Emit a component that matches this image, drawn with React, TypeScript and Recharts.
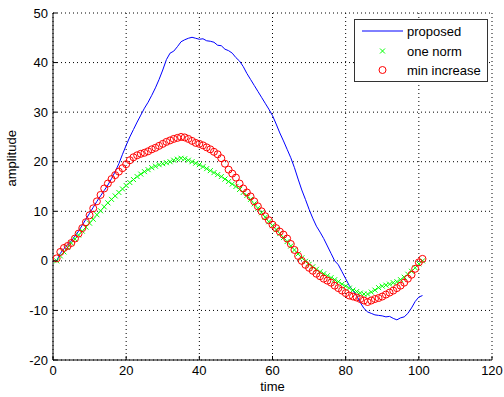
import React from 'react';
import { ComposedChart, Line, XAxis, YAxis, CartesianGrid } from 'recharts';

// sample index 1..101
const time = Array.from({ length: 101 }, (_, i) => i + 1);

const proposed = [
  0, 1.5, 2.5, 3.2, 4.0, 5.0, 6.0, 7.2, 8.4, 9.6,
  10.8, 12.0, 13.1, 14.2, 15.3, 16.6, 18.0, 19.6, 21.5, 23.3,
  25.0, 26.5, 28.0, 29.4, 30.8, 32.0, 33.4, 34.9, 36.6, 38.5,
  40.6, 41.9, 42.3, 43.2, 44.2, 44.6, 44.9, 45.1, 44.9, 44.7,
  44.8, 44.4, 44.3, 44.1, 43.5, 43.4, 42.7, 42.4, 41.9, 41.0,
  40.3, 39.2, 37.8, 36.6, 35.4, 34.2, 33.0, 31.8, 30.6, 29.3,
  27.6, 25.8, 24.2, 22.5, 20.8, 18.8, 16.5, 14.3, 12.4, 10.4,
  8.6, 7.0, 5.8, 4.5, 3.0, 1.5, 0.0, -0.8, -2.2, -3.6,
  -5.0, -6.0, -7.0, -8.4, -9.6, -10.3, -10.6, -10.9, -11.0, -11.1,
  -11.3, -11.2, -11.6, -11.9, -11.5, -11.3, -10.6, -9.5, -8.2, -7.3,
  -7.0,
];

const oneNorm = [
  0, 1.0, 1.8, 2.7, 3.6, 4.4, 5.2, 6.0, 6.8, 7.6,
  8.4, 9.3, 10.1, 10.9, 11.7, 12.4, 13.1, 13.8, 14.5, 15.2,
  15.8, 16.4, 17.0, 17.5, 18.0, 18.4, 18.8, 19.1, 19.4, 19.6,
  19.8, 20.0, 20.3, 20.5, 20.7, 20.6, 20.3, 20.0, 19.7, 19.4,
  19.0, 18.6, 18.2, 17.8, 17.4, 17.0, 16.5, 16.0, 15.5, 15.0,
  14.4, 13.8, 13.2, 12.4, 11.5, 10.6, 9.7, 8.8, 7.9, 7.1,
  6.3, 5.5, 4.7, 3.9, 3.0, 2.2, 1.4, 0.6, -0.1, -0.7,
  -1.2, -1.7, -2.2, -2.6, -3.0, -3.4, -3.8, -4.2, -4.7, -5.1,
  -5.5, -5.9, -6.2, -6.5, -6.7, -6.7, -6.3, -5.9, -5.4, -5.1,
  -4.9, -4.7, -4.4, -4.2, -3.8, -3.3, -2.7, -2.1, -1.4, -0.6,
  0.0,
];

const minIncrease = [
  0.5, 1.8, 2.6, 3.0, 3.6, 4.5, 5.5, 6.6, 7.8, 9.2,
  10.6, 12.0, 13.3, 14.6, 15.6, 16.5, 17.3, 18.0, 18.7, 19.5,
  20.3, 20.9, 21.3, 21.6, 21.8, 22.1, 22.5, 22.8, 23.2, 23.6,
  24.0, 24.3, 24.6, 24.8, 25.0, 24.9, 24.6, 24.2, 23.8, 23.6,
  23.3, 22.9, 22.5, 22.0, 21.5, 20.7, 19.6, 18.4, 17.6, 16.8,
  15.6, 14.6, 13.8, 13.0, 12.0, 11.0, 10.0, 9.0, 8.2, 7.3,
  6.6, 5.9, 5.3, 4.5, 3.4, 2.2, 1.0, 0.0, -0.8, -1.4,
  -2.0, -2.6, -3.1, -3.6, -4.0, -4.4, -5.0, -5.5, -6.0, -6.5,
  -7.0, -7.2, -7.4, -7.7, -8.0, -8.3, -8.0, -7.7, -7.5, -7.2,
  -6.8, -6.4, -6.0, -5.5, -5.0, -4.4, -3.6, -2.8, -1.6, -0.3,
  0.4,
];

const xTicks = [0, 20, 40, 60, 80, 100, 120];
const yTicks = [-20, -10, 0, 10, 20, 30, 40, 50];

const data = time.map((t, i) => ({
  time: t,
  proposed: proposed[i],
  oneNorm: oneNorm[i],
  minIncrease: minIncrease[i],
}));

const FONT = '"Liberation Sans", Arial, sans-serif';

const BottomTick = ({ x, y, payload }: any) => (
  <g>
    <line x1={x} x2={x} y1={y} y2={y - 4} stroke="#000" />
    <text x={x} y={y + 15} textAnchor="middle" fontSize={13} fontFamily={FONT} fill="#000">
      {payload.value}
    </text>
  </g>
);

const LeftTick = ({ x, y, payload }: any) => (
  <g>
    <line x1={x} x2={x + 4} y1={y} y2={y} stroke="#000" />
    <text x={x - 5} y={y + 4.6} textAnchor="end" fontSize={13} fontFamily={FONT} fill="#000">
      {payload.value}
    </text>
  </g>
);

const TopTick = ({ x, y }: any) => <line x1={x} x2={x} y1={y} y2={y + 4} stroke="#000" />;
const RightTick = ({ x, y }: any) => <line x1={x} x2={x - 4} y1={y} y2={y} stroke="#000" />;

const Cross = (props: any) => {
  const { cx, cy, index } = props;
  if (cx == null || cy == null) return <g key={index} />;
  const s = 2.5;
  return (
    <path
      key={index}
      d={`M${cx - s},${cy - s}L${cx + s},${cy + s}M${cx - s},${cy + s}L${cx + s},${cy - s}`}
      stroke="#00ff00"
      strokeWidth={1}
      fill="none"
    />
  );
};

const Ring = (props: any) => {
  const { cx, cy, index } = props;
  if (cx == null || cy == null) return <g key={index} />;
  return <circle key={index} cx={cx} cy={cy} r={3.5} stroke="#ff0000" strokeWidth={1} fill="none" />;
};

function LegendBox() {
  return (
    <svg
      width={135}
      height={64}
      style={{ position: 'absolute', left: 354, top: 19, background: '#fff' }}
    >
      <rect x={0.5} y={0.5} width={133} height={62} fill="#fff" stroke="#333" />
      <line x1={8} x2={49} y1={12} y2={12} stroke="#0000ff" />
      <text x={53} y={16.5} fontSize={13} fontFamily={FONT} fill="#000">proposed</text>
      <path d="M26,29.5L31,34.5M26,34.5L31,29.5" stroke="#00ff00" fill="none" />
      <text x={53} y={36.5} fontSize={13} fontFamily={FONT} fill="#000">one norm</text>
      <circle cx={28.5} cy={51} r={3.5} stroke="#ff0000" fill="none" />
      <text x={53} y={55.5} fontSize={13} fontFamily={FONT} fill="#000">min increase</text>
    </svg>
  );
}

export default function App() {
  return (
    <div style={{ position: 'absolute', left: 0, top: 0, width: 504, height: 397, background: '#fff' }}>
      <ComposedChart
        width={504}
        height={397}
        data={data}
        margin={{ top: 13, right: 12, bottom: 0, left: 0 }}
      >
        <CartesianGrid stroke="#000" strokeDasharray="1 3" ticks={undefined} />
        <XAxis
          dataKey="time"
          type="number"
          domain={[0, 120]}
          ticks={xTicks}
          interval={0}
          height={37}
          tickSize={0}
          tickMargin={0}
          tickLine={false}
          tick={<BottomTick />}
          stroke="#000"
          label={{ value: 'time', position: 'insideBottom', offset: 6, fontSize: 13, fontFamily: FONT, fill: '#000' }}
        />
        <XAxis
          xAxisId="top"
          orientation="top"
          dataKey="time"
          type="number"
          domain={[0, 120]}
          ticks={xTicks}
          interval={0}
          height={0}
          tickSize={0}
          tickMargin={0}
          tickLine={false}
          tick={<TopTick />}
          stroke="#000"
        />
        <YAxis
          type="number"
          domain={[-20, 50]}
          ticks={yTicks}
          interval={0}
          width={53}
          tickSize={0}
          tickMargin={0}
          tickLine={false}
          tick={<LeftTick />}
          stroke="#000"
          label={{ value: 'amplitude', angle: -90, position: 'insideLeft', offset: 11, fontSize: 13, fontFamily: FONT, fill: '#000' }}
        />
        <YAxis
          yAxisId="right"
          orientation="right"
          type="number"
          domain={[-20, 50]}
          ticks={yTicks}
          interval={0}
          width={0}
          tickSize={0}
          tickMargin={0}
          tickLine={false}
          tick={<RightTick />}
          stroke="#000"
        />
        <Line
          dataKey="proposed"
          stroke="#0000ff"
          strokeWidth={1}
          dot={false}
          activeDot={false}
          type="linear"
          isAnimationActive={false}
        />
        <Line
          dataKey="oneNorm"
          stroke="none"
          dot={<Cross />}
          activeDot={false}
          type="linear"
          isAnimationActive={false}
        />
        <Line
          dataKey="minIncrease"
          stroke="none"
          dot={<Ring />}
          activeDot={false}
          type="linear"
          isAnimationActive={false}
        />
      </ComposedChart>
      <LegendBox />
    </div>
  );
}
